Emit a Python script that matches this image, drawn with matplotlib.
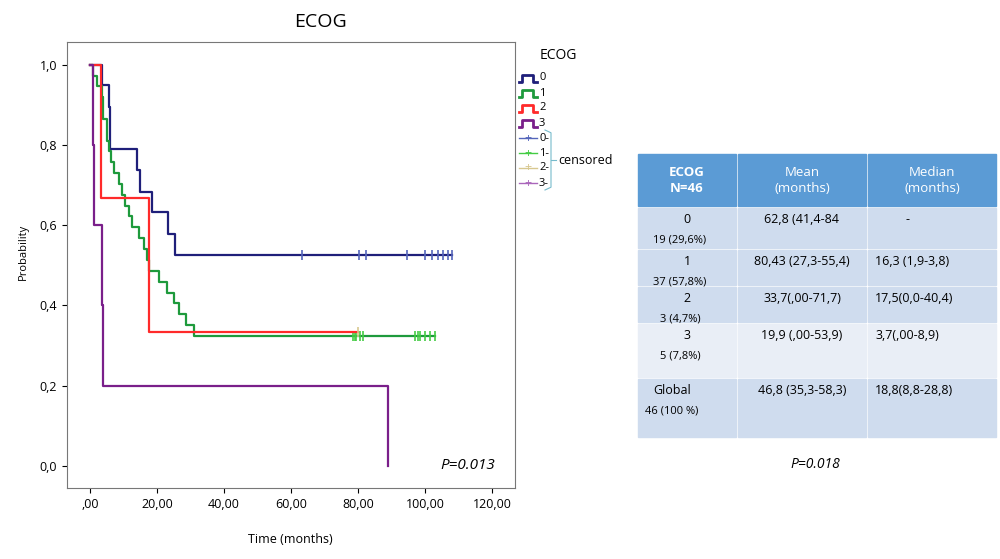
import numpy as np
import matplotlib.pyplot as plt
from matplotlib.patches import Rectangle

# Kaplan-Meier steps
t0 = [0, 3.5, 5.5, 6.0, 14.0, 14.9, 18.6, 23.3, 25.3, 108]
s0 = [1.0, 0.95, 0.895, 0.79, 0.737, 0.684, 0.632, 0.579, 0.526, 0.526]
c0 = [63.2, 80.4, 82.4, 94.5, 100, 102, 104, 105.5, 106.8, 108]

t1 = [0, 1.0, 2.0, 3.5, 4.0, 5.0, 5.5, 6.3, 7.0, 8.5, 9.5, 10.5, 11.5, 12.5,
      14.5, 16.2, 17.0, 17.5, 20.5, 23.0, 25.0, 26.5, 28.5, 31.0, 103]
s1 = [1.0, 0.973, 0.946, 0.919, 0.865, 0.811, 0.784, 0.757, 0.73, 0.703, 0.676,
      0.649, 0.622, 0.595, 0.568, 0.541, 0.514, 0.486, 0.459, 0.432, 0.405,
      0.378, 0.351, 0.324, 0.324]
c1 = [78.5, 79.0, 79.5, 80.5, 81.5, 97.0, 98.0, 98.5, 100, 101.5, 103]

t2 = [0, 3.3, 17.5, 80]
s2 = [1.0, 0.667, 0.333, 0.333]
c2 = [80]

t3 = [0, 1.0, 1.3, 3.7, 3.9, 89.0]
s3 = [1.0, 0.8, 0.6, 0.4, 0.2, 0.0]

colors = ['#1f1f7a', '#1e9a3c', '#ff2a2a', '#7a1f8a']
cens_colors = ['#5566bb', '#44cc44', '#d8c890', '#aa66bb']

table_header = ['ECOG\nN=46', 'Mean\n(months)', 'Median\n(months)']
table_groups = ['0\n19 (29,6%)', '1\n37 (57,8%)', '2\n3 (4,7%)', '3\n5 (7,8%)', 'Global\n46 (100 %)']
table_mean = ['62,8 (41,4-84', '80,43 (27,3-55,4)', '33,7(,00-71,7)', '19,9 (,00-53,9)', '46,8 (35,3-58,3)']
table_median = ['-', '16,3 (1,9-3,8)', '17,5(0,0-40,4)', '3,7(,00-8,9)', '18,8(8,8-28,8)']

plt.rcParams['font.family'] = ['Open Sans', 'DejaVu Sans']
fig = plt.figure(figsize=(10, 5.59), dpi=100)
ax = fig.add_axes([0.067, 0.127, 0.448, 0.798])

curves = [(t0, s0, c0), (t1, s1, c1), (t2, s2, c2), (t3, s3, [])]
for i, (t, s, c) in enumerate(curves):
    ax.step(t, s, where='post', color=colors[i], lw=1.6)
    if c:
        cy = np.interp(c, t, s, right=s[-1])
        ax.plot(c, [s[-1]] * len(c), '|', color=cens_colors[i], ms=7, mew=1.2)

ax.set_xlim(-6.9, 126.9)
ax.set_ylim(-0.055, 1.057)
ax.set_xticks(np.arange(0, 121, 20))
ax.set_xticklabels([',00'] + ['%d,00' % v for v in range(20, 121, 20)], fontsize=9)
ax.set_yticks(np.arange(0, 1.01, 0.2))
ax.set_yticklabels(['%.1f' % v for v in np.arange(0, 1.01, 0.2)], fontsize=9)
ax.set_yticklabels([l.get_text().replace('.', ',') for l in ax.get_yticklabels()])
ax.text(121, 0.0, 'P=0.013', style='italic', fontsize=11, ha='right', va='center')
for sp in ax.spines.values():
    sp.set_color('#777777')

fig.text(0.32, 0.96, 'ECOG', fontsize=14, ha='center', va='center')
fig.text(0.29, 0.028, 'Time (months)', fontsize=9, ha='center')
fig.text(0.018, 0.55, 'Probability', fontsize=8, rotation=90, va='center')

# legend
fig.text(0.54, 0.90, 'ECOG', fontsize=10, va='center')
labels = ['0', '1', '2', '3', '0-', '1-', '2-', '3-']
for k, lab in enumerate(labels):
    y = 1 - (78 + k * 15) / 559
    if k < 4:
        fig.add_artist(plt.Line2D([0.519, 0.522, 0.522, 0.533, 0.533, 0.537],
                                  [y - 0.008, y - 0.008, y + 0.006, y + 0.006, y - 0.008, y - 0.008],
                                  color=colors[k], lw=2))
    else:
        fig.add_artist(plt.Line2D([0.519, 0.537], [y, y], color=cens_colors[k - 4], lw=1))
        fig.text(0.528, y, '+', color=cens_colors[k - 4], ha='center', va='center', fontsize=9)
    fig.text(0.539, y, lab, fontsize=8, va='center')
yb0, yb1 = 1 - 130 / 559, 1 - 190 / 559
fig.add_artist(plt.Line2D([0.545, 0.551, 0.551, 0.545], [yb0, yb0 - 0.005, yb1 + 0.005, yb1],
                          color='#77bbcc', lw=0.8))
fig.add_artist(plt.Line2D([0.551, 0.556], [(yb0 + yb1) / 2] * 2, color='#77bbcc', lw=0.8))
fig.text(0.558, (yb0 + yb1) / 2, 'censored', fontsize=9, va='center')

# table
col_x = [637, 737, 867, 997]
row_y = [153, 207, 249, 286, 323, 378, 438]
row_fill = ['#5b9bd5', '#cfdcee', '#cfdcee', '#cfdcee', '#e9eef6', '#cfdcee']
for r in range(6):
    for cidx in range(3):
        x0, x1 = col_x[cidx] + 1, col_x[cidx + 1] - 1
        y0, y1 = row_y[r] + 1, row_y[r + 1] - 1
        fig.add_artist(Rectangle((x0 / 1000, 1 - y1 / 559), (x1 - x0) / 1000, (y1 - y0) / 559,
                                 color=row_fill[r], transform=fig.transFigure))
for cidx, h in enumerate(table_header):
    cx = (col_x[cidx] + col_x[cidx + 1]) / 2000
    fig.text(cx, 1 - 180 / 559, h, color='white', fontsize=9.5, ha='center', va='center',
             fontweight='bold' if cidx == 0 else 'normal', linespacing=1.3)
for r in range(5):
    ytop = 1 - (row_y[r + 1] + 6) / 559
    first, second = table_groups[r].split('\n')
    fig.text(0.687 if r < 4 else 0.672, ytop, first, fontsize=9, ha='center', va='top')
    fig.text(0.680 if r < 4 else 0.672, ytop - 0.038, second, fontsize=8, ha='center', va='top')
    fig.text(0.802, ytop, table_mean[r], fontsize=9, ha='center', va='top')
    fig.text(0.875 if r > 0 else 0.905, ytop, table_median[r], fontsize=9, ha='left', va='top')
fig.text(0.815, 1 - 465 / 559, 'P=0.018', style='italic', fontsize=10, ha='center', va='center')

fig.savefig('out.png', dpi=100)
